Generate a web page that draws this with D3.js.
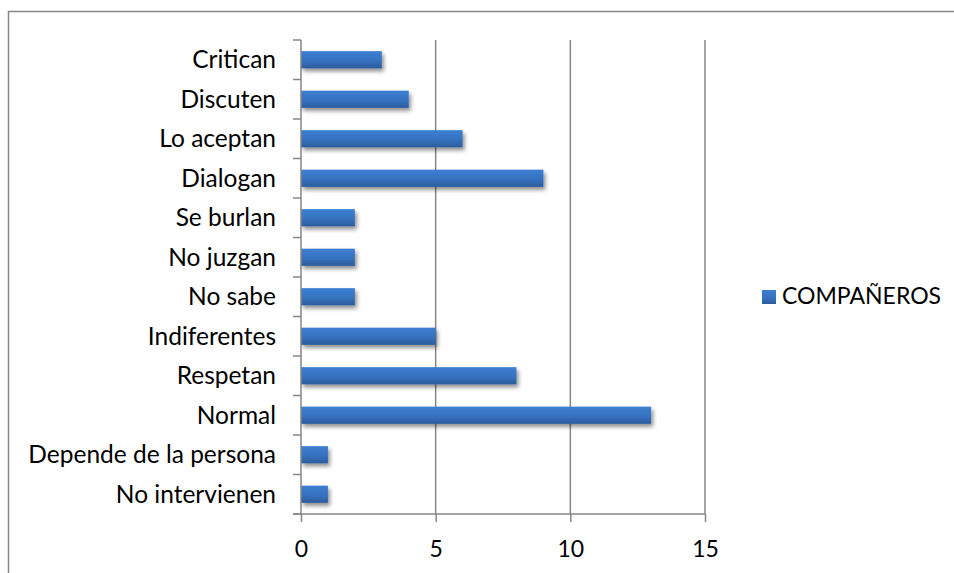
<!DOCTYPE html>
<html>
<head>
<meta charset="utf-8">
<script src="https://cdn.jsdelivr.net/npm/d3@7"></script>
<style>
  html, body { margin: 0; padding: 0; background: #fff; }
  svg { display: block; }
  text { font-family: "Lato", "Open Sans", sans-serif; fill: #000; }
</style>
</head>
<body>
<svg id="chart" width="954" height="573"></svg>
<script>
// Categories listed top to bottom, with their counts
const categories = [
  "Critican", "Discuten", "Lo aceptan", "Dialogan", "Se burlan", "No juzgan",
  "No sabe", "Indiferentes", "Respetan", "Normal", "Depende de la persona", "No intervienen"
];
const companeros = [3, 4, 6, 9, 2, 2, 2, 5, 8, 13, 1, 1];
const xTicks = [0, 5, 10, 15];
const seriesName = "COMPAÑEROS";

const svg = d3.select("#chart");
const axisColor = "#868686";

// outer chart frame (right and bottom edges run off the page)
svg.append("rect")
  .attr("x", 8.5).attr("y", 11.5)
  .attr("width", 960).attr("height", 600)
  .attr("fill", "none").attr("stroke", axisColor).attr("stroke-width", 1.5);

const plot = { left: 301, right: 705, top: 40, bottom: 514 };

const x = d3.scaleLinear().domain([0, 15]).range([plot.left, plot.right]);
const y = d3.scaleBand().domain(categories)
  .range([plot.top, plot.bottom]).paddingInner(0.565).paddingOuter(0.2825);

const defs = svg.append("defs");
const grad = defs.append("linearGradient").attr("id", "barGrad")
  .attr("x1", 0).attr("y1", 0).attr("x2", 0).attr("y2", 1);
grad.append("stop").attr("offset", "0%").attr("stop-color", "#3c7fd2");
grad.append("stop").attr("offset", "55%").attr("stop-color", "#3672c0");
grad.append("stop").attr("offset", "100%").attr("stop-color", "#2b5c9b");

const shadow = defs.append("filter").attr("id", "barShadow")
  .attr("x", "-10%").attr("y", "-40%").attr("width", "130%").attr("height", "200%");
shadow.append("feGaussianBlur").attr("in", "SourceAlpha").attr("stdDeviation", 2.2).attr("result", "b");
shadow.append("feOffset").attr("in", "b").attr("dx", 1.5).attr("dy", 2.5).attr("result", "o");
shadow.append("feComponentTransfer").attr("in", "o").attr("result", "s")
  .append("feFuncA").attr("type", "linear").attr("slope", 0.45);
const merge = shadow.append("feMerge");
merge.append("feMergeNode").attr("in", "s");
merge.append("feMergeNode").attr("in", "SourceGraphic");

// vertical gridlines
svg.append("g").selectAll("line")
  .data(xTicks.filter(d => d > 0))
  .join("line")
  .attr("x1", d => x(d)).attr("x2", d => x(d))
  .attr("y1", plot.top).attr("y2", plot.bottom)
  .attr("stroke", axisColor).attr("stroke-width", 1.5);

// bars
svg.append("g").selectAll("rect")
  .data(categories.map((c, i) => ({ c, v: companeros[i] })))
  .join("rect")
  .attr("x", x(0))
  .attr("y", d => y(d.c))
  .attr("width", d => x(d.v) - x(0))
  .attr("height", y.bandwidth())
  .attr("fill", "url(#barGrad)")
  .attr("filter", "url(#barShadow)");

// x axis
const xAxis = svg.append("g")
  .attr("transform", `translate(0,${plot.bottom})`)
  .call(d3.axisBottom(x).tickValues(xTicks).tickSize(8).tickSizeOuter(0));
xAxis.select(".domain").remove();
xAxis.append("line")
  .attr("x1", plot.left - 8).attr("x2", plot.right)
  .attr("stroke", axisColor).attr("stroke-width", 1.5);
xAxis.selectAll(".tick line").attr("stroke", axisColor).attr("stroke-width", 1.5);
xAxis.selectAll(".tick text")
  .attr("y", 43).attr("dy", 0)
  .style("font-size", "23px");

// y axis: ticks sit at the band boundaries
const yAxisG = svg.append("g");
const boundaries = d3.range(categories.length + 1).map(i => plot.top + i * (plot.bottom - plot.top) / categories.length);
yAxisG.append("line")
  .attr("x1", plot.left).attr("x2", plot.left)
  .attr("y1", plot.top).attr("y2", plot.bottom)
  .attr("stroke", axisColor).attr("stroke-width", 1.5);
yAxisG.selectAll("line.tick")
  .data(boundaries)
  .join("line").attr("class", "tick")
  .attr("x1", plot.left - 8).attr("x2", plot.left)
  .attr("y1", d => d).attr("y2", d => d)
  .attr("stroke", axisColor).attr("stroke-width", 1.5);
yAxisG.selectAll("text")
  .data(categories)
  .join("text")
  .attr("x", 276)
  .attr("y", d => y(d) + y.bandwidth() / 2)
  .attr("dy", "0.35em")
  .attr("text-anchor", "end")
  .style("font-size", "24.5px")
  .text(d => d);

// legend
const legend = svg.append("g");
legend.append("rect")
  .attr("x", 762).attr("y", 290).attr("width", 14).attr("height", 14)
  .attr("fill", "url(#barGrad)");
legend.append("text")
  .attr("x", 782).attr("y", 304)
  .style("font-size", "23px")
  .text(seriesName);
</script>
</body>
</html>
